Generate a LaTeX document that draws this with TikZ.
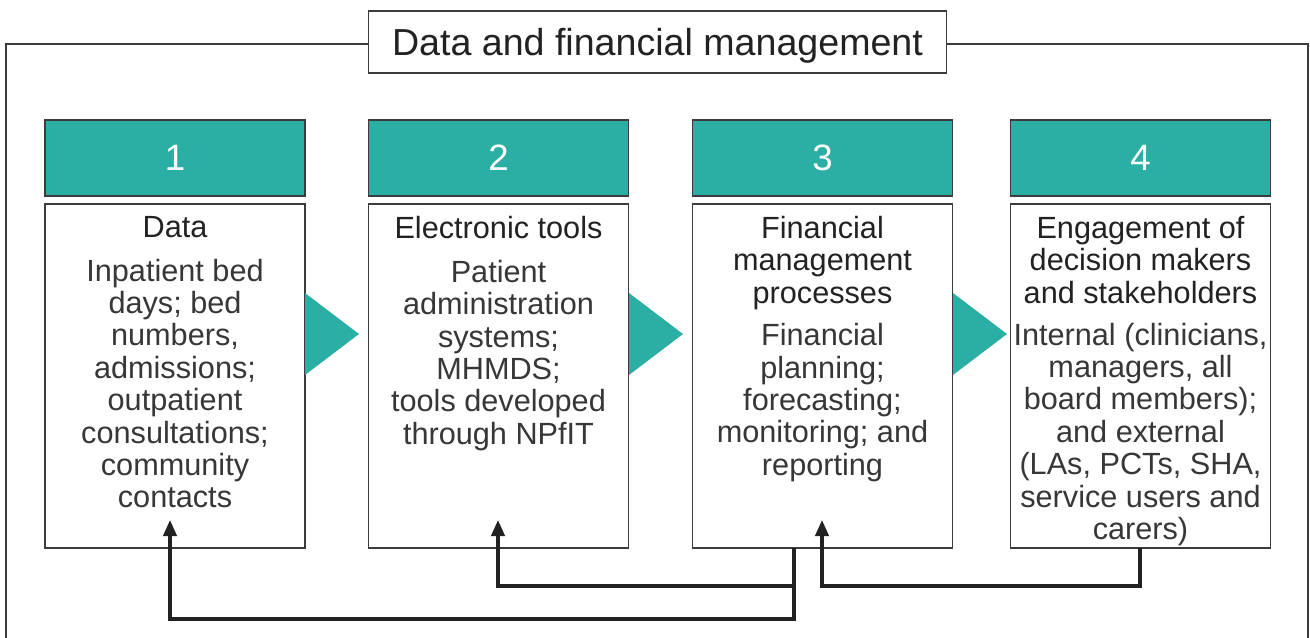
\documentclass[tikz,border=0pt]{standalone}
\usepackage{fontspec}
\setmainfont{Liberation Sans}
\usetikzlibrary{arrows.meta}
\definecolor{teal1}{RGB}{43,175,165}
\definecolor{ink}{RGB}{34,34,34}
\definecolor{soft}{RGB}{55,55,55}
\definecolor{edge}{RGB}{60,60,60}
\newcommand{\bodyfont}{\fontsize{23pt}{24.3pt}\selectfont}
\tikzset{
  hdrbox/.style={draw=edge, line width=0.9pt, fill=teal1, minimum width=195pt, minimum height=57pt, inner sep=0pt, text=white, font=\fontsize{27.5pt}{30pt}\selectfont},
  whitebox/.style={draw=edge, line width=0.9pt, fill=white, minimum width=195pt, minimum height=258pt, inner sep=0pt},
  boxtext/.style={anchor=north, align=center, inner sep=0pt, text=soft, font=\bodyfont},
  titlebox/.style={draw=edge, line width=0.9pt, fill=white, minimum width=434pt, minimum height=46.5pt, inner sep=0pt, text=ink, text height=20.2pt, text depth=0pt, font=\fontsize{28.2pt}{30pt}\selectfont},
  framel/.style={draw=edge, line width=0.9pt},
  flow/.style={draw=ink, line width=2.3pt},
  flowarrow/.style={flow, -{Triangle[width=10pt,length=12pt]}},
  tri/.style={fill=teal1, draw=none}
}
\begin{document}
\begin{tikzpicture}[x=0.75pt,y=-0.75pt]
\useasboundingbox (0,0) rectangle (1310,637);
% frame
\coordinate (fl) at (6,44);
\coordinate (flb) at (6,640);
\coordinate (fr) at (1308,44);
\coordinate (frb) at (1308,640);
\node[titlebox] (title) at (657.5,42) {Data and financial management};
\draw[framel] (title.west |- fl) -- (fl) -- (flb);
\draw[framel] (title.east |- fr) -- (fr) -- (frb);
% headers
\node[hdrbox] (h1) at (175,158) {1};
\node[hdrbox] (h2) at (498.5,158) {2};
\node[hdrbox] (h3) at (822.5,158) {3};
\node[hdrbox] (h4) at (1140.5,158) {4};
% white boxes
\node[whitebox] (b1) at (175,376) {};
\node[whitebox] (b2) at (498.5,376) {};
\node[whitebox] (b3) at (822.5,376) {};
\node[whitebox] (b4) at (1140.5,376) {};
% triangles
\fill[tri] (305,293) -- (359,334) -- (305,375) -- cycle;
\fill[tri] (629,293) -- (683,334) -- (629,375) -- cycle;
\fill[tri] (953,293) -- (1007,334) -- (953,375) -- cycle;
% texts
\node[boxtext] (t1) at (175,216) {{\color{ink}Data}\\[8.5pt]
Inpatient bed\\days; bed\\numbers,\\admissions;\\outpatient\\consultations;\\community\\contacts};
\node[boxtext] (t2) at (498.5,216) {{\color{ink}Electronic tools}\\[8.5pt]
Patient\\administration\\systems;\\MHMDS;\\tools developed\\through NPfIT};
\node[boxtext] (t3) at (822.5,216) {{\color{ink}Financial}\\{\color{ink}management}\\{\color{ink}processes}\\[7.5pt]
Financial\\planning;\\forecasting;\\monitoring; and\\reporting};
\node[boxtext] (t4) at (1140.5,216) {{\color{ink}Engagement of}\\{\color{ink}decision makers}\\{\color{ink}and stakeholders}\\[7pt]
Internal (clinicians,\\managers, all\\board members);\\and external\\(LAs, PCTs, SHA,\\service users and\\carers)};
% feedback connectors
\coordinate (s3) at (794,548);
\coordinate (low1) at (170,619);
\coordinate (e1) at (170,520);
\coordinate (mid2) at (498,586);
\coordinate (e2) at (498,520);
\coordinate (j3) at (794,586);
\coordinate (s4) at (1140,548);
\coordinate (mid3) at (822,586);
\coordinate (e3) at (822,520);
\draw[flowarrow] (s3) |- (low1) -- (e1);
\draw[flowarrow] (j3) -- (mid2) -- (e2);
\draw[flowarrow] (s4) |- (mid3) -- (e3);
\end{tikzpicture}
\end{document}
